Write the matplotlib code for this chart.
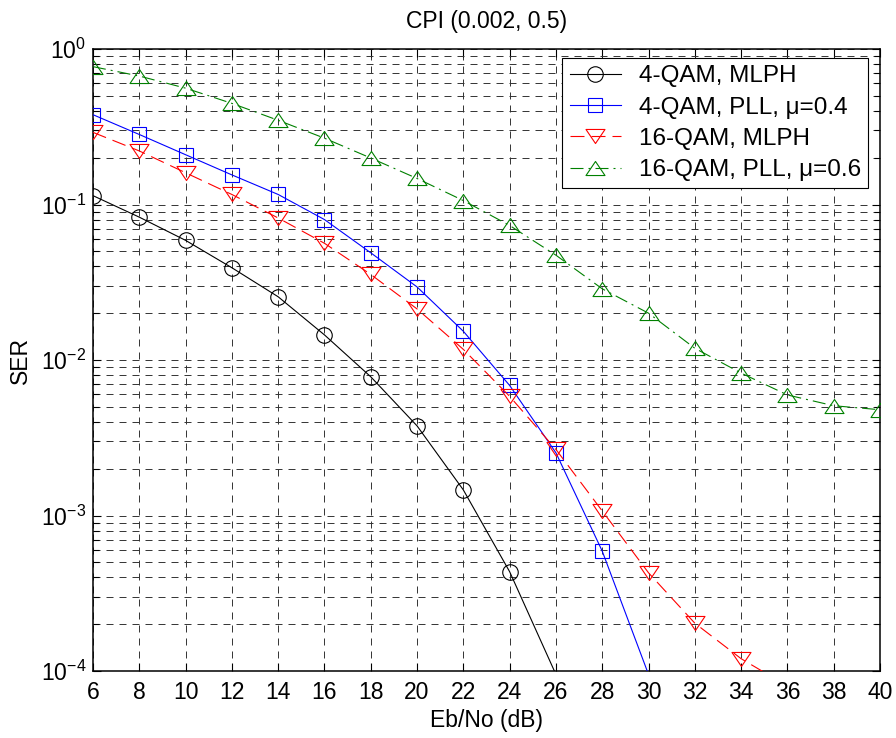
import numpy as np
import matplotlib
matplotlib.use("Agg")
import matplotlib.pyplot as plt
from matplotlib.lines import Line2D
from matplotlib.path import Path
from matplotlib.ticker import LogLocator, LogFormatterSciNotation, FixedLocator, NullFormatter

plt.rcParams['font.family'] = ['Liberation Sans', 'DejaVu Sans']
plt.rcParams['mathtext.fontset'] = 'custom'
plt.rcParams['mathtext.rm'] = 'Liberation Sans'
plt.rcParams['mathtext.it'] = 'Liberation Sans:italic'
plt.rcParams['mathtext.bf'] = 'Liberation Sans:bold'
plt.rcParams['mathtext.default'] = 'regular'
plt.rcParams['lines.scale_dashes'] = False

# ---------------- data ----------------
ebno = [6, 8, 10, 12, 14, 16, 18, 20, 22, 24, 26, 28, 30, 32, 34, 36, 38, 40]
ser_4qam_mlph = [0.114, 0.0829, 0.0588, 0.0392, 0.0255, 0.0145, 0.0078, 0.00377,
                 0.00146, 0.000435, 9.5e-5]
ser_4qam_pll = [0.378, 0.282, 0.209, 0.155, 0.116, 0.080, 0.0489, 0.0295, 0.0153,
                0.00686, 0.00253, 0.00059, 9.5e-5]
ser_16qam_mlph = [0.291, 0.221, 0.160, 0.116, 0.0819, 0.0563, 0.0355, 0.0213, 0.0117,
                  0.00584, 0.00266, 0.00107, 0.000428, 0.000203, 0.00012, 8e-5]
ser_16qam_pll = [0.77, 0.67, 0.56, 0.447, 0.348, 0.267, 0.199, 0.147, 0.106, 0.0733,
                 0.0472, 0.0287, 0.020, 0.0119, 0.00824, 0.00596, 0.00508, 0.00479]
labels = ['4-QAM, MLPH', '4-QAM, PLL, μ=0.4', '16-QAM, MLPH', '16-QAM, PLL, μ=0.6']
title = 'CPI (0.002, 0.5)'
xlabel = 'Eb/No (dB)'
ylabel = 'SER'
xticks = [6, 8, 10, 12, 14, 16, 18, 20, 22, 24, 26, 28, 30, 32, 34, 36, 38, 40]
ylim = (1e-4, 1e0)

# ---------------- markers ----------------
tri_up = Path([(-1, -0.74), (1, -0.74), (0, 0.74), (-1, -0.74)],
              [Path.MOVETO, Path.LINETO, Path.LINETO, Path.CLOSEPOLY])
tri_down = Path([(-1, 0.74), (1, 0.74), (0, -0.74), (-1, 0.74)],
                [Path.MOVETO, Path.LINETO, Path.LINETO, Path.CLOSEPOLY])

FS = 16.5
px = 0.72  # points per pixel at dpi 100
styles = [
    dict(color='black', ls='-', marker='o', ms=15.5 * px),
    dict(color='blue', ls='-', marker='s', ms=14.3 * px),
    dict(color='red', ls=(0, (14 * px, 7 * px)), marker=tri_down, ms=19 * px),
    dict(color='#008000', ls=(0, (13 * px, 5 * px, 2 * px, 5 * px)), marker=tri_up, ms=19 * px),
]
series = [ser_4qam_mlph, ser_4qam_pll, ser_16qam_mlph, ser_16qam_pll]

fig = plt.figure(figsize=(8.96, 7.38), dpi=100)
ax = fig.add_axes([93 / 896, 67 / 738, 787 / 896, 622 / 738])

handles = []
for ys, st, lab in zip(series, styles, labels):
    xs = ebno[:len(ys)]
    mask = [y >= ylim[0] for y in ys]
    ax.plot(xs, ys, color=st['color'], linestyle=st['ls'], linewidth=0.8,
            marker=st['marker'], markersize=st['ms'], markerfacecolor='none',
            markeredgecolor=st['color'], markeredgewidth=0.8, markevery=mask, zorder=3)
    handles.append(Line2D([], [], color=st['color'], linestyle=st['ls'], linewidth=0.8,
                          marker=st['marker'], markersize=st['ms'], markerfacecolor='none',
                          markeredgecolor=st['color'], markeredgewidth=0.8))

ax.set_yscale('log')
ax.set_xlim(6, 40)
ax.set_ylim(*ylim)
ax.xaxis.set_major_locator(FixedLocator(xticks))
ax.yaxis.set_major_locator(LogLocator(base=10, numticks=10))
ax.yaxis.set_minor_locator(LogLocator(base=10, subs=np.arange(2, 10), numticks=20))
ax.yaxis.set_major_formatter(LogFormatterSciNotation())
ax.yaxis.set_minor_formatter(NullFormatter())

grid_kw = dict(color='0.2', linewidth=0.7, linestyle=(0, (7 * px, 6 * px)))
ax.grid(True, which='major', axis='x', **grid_kw)
ax.grid(True, which='both', axis='y', **grid_kw)
ax.set_axisbelow(True)

ax.tick_params(which='both', direction='in', top=True, right=True, labelsize=FS,
               width=0.8, colors='black')
ax.tick_params(which='major', length=6)
ax.tick_params(which='minor', length=4)
ax.tick_params(axis='x', pad=7)
ax.tick_params(axis='y', pad=5)
for sp in ax.spines.values():
    sp.set_linewidth(1.1)

ax.set_title(title, fontsize=FS, pad=15)
ax.set_xlabel(xlabel, fontsize=FS, labelpad=4)
ax.set_ylabel(ylabel, fontsize=FS, labelpad=6)

leg = ax.legend(handles, labels, loc='upper right', bbox_to_anchor=(0.985, 0.9855),
                fontsize=17.5, frameon=True, fancybox=False, framealpha=1,
                edgecolor='black', handlelength=2.1, handletextpad=0.75,
                labelspacing=0.38, borderpad=0.3, borderaxespad=0)
leg.get_frame().set_linewidth(0.8)

fig.savefig('out.png', dpi=100)
